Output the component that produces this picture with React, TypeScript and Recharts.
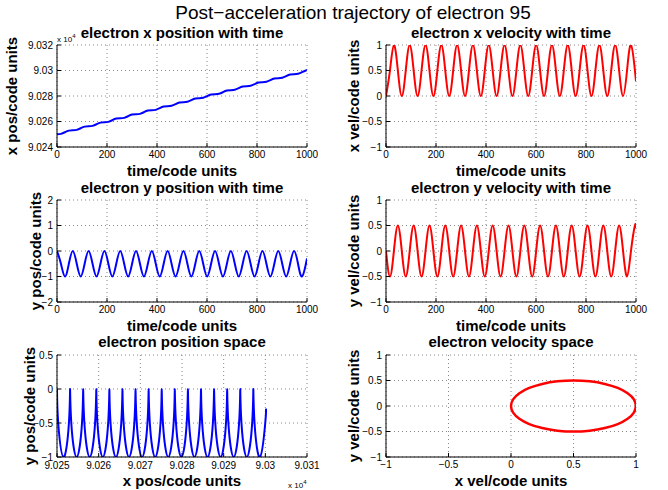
import React from 'react';
import { LineChart, Line, XAxis, YAxis, CartesianGrid } from 'recharts';

// samples taken at every quarter of a gyration
const time = [
  0, 15.8, 31.6, 47.4, 63.2, 79.0, 94.8, 110.6,
  126.4, 142.2, 158.1, 173.9, 189.7, 205.5, 221.3, 237.1,
  252.9, 268.7, 284.5, 300.3, 316.1, 331.9, 347.7, 363.5,
  379.3, 395.1, 410.9, 426.7, 442.5, 458.3, 474.2, 490.0,
  505.8, 521.6, 537.4, 553.2, 569.0, 584.8, 600.6, 616.4,
  632.2, 648.0, 663.8, 679.6, 695.4, 711.2, 727.0, 742.8,
  758.6, 774.4, 790.3, 806.1, 821.9, 837.7, 853.5, 869.3,
  885.1, 900.9, 916.7, 932.5, 948.3, 964.1, 979.9, 995.7,
  1000,
];

const xPos = [
  90250, 90250.29, 90251.57, 90252.86, 90253.14, 90253.43, 90254.71, 90256.0,
  90256.28, 90256.57, 90257.85, 90259.14, 90259.43, 90259.71, 90261.0, 90262.28,
  90262.57, 90262.85, 90264.14, 90265.42, 90265.71, 90265.99, 90267.28, 90268.56,
  90268.85, 90269.14, 90270.42, 90271.71, 90271.99, 90272.28, 90273.56, 90274.85,
  90275.13, 90275.42, 90276.7, 90277.99, 90278.27, 90278.56, 90279.85, 90281.13,
  90281.42, 90281.7, 90282.99, 90284.27, 90284.56, 90284.84, 90286.13, 90287.41,
  90287.7, 90287.99, 90289.27, 90290.56, 90290.84, 90291.13, 90292.41, 90293.7,
  90293.98, 90294.27, 90295.55, 90296.84, 90297.12, 90297.41, 90298.7, 90299.98,
  90300.15,
];

const yPos = [
  0, -0.5, -1, -0.5, 0, -0.5, -1, -0.5,
  0, -0.5, -1, -0.5, 0, -0.5, -1, -0.5,
  0, -0.5, -1, -0.5, 0, -0.5, -1, -0.5,
  0, -0.5, -1, -0.5, 0, -0.5, -1, -0.5,
  0, -0.5, -1, -0.5, 0, -0.5, -1, -0.5,
  0, -0.5, -1, -0.5, 0, -0.5, -1, -0.5,
  0, -0.5, -1, -0.5, 0, -0.5, -1, -0.5,
  0, -0.5, -1, -0.5, 0, -0.5, -1, -0.5,
  -0.29,
];

const xVel = [
  0, 0.5, 1, 0.5, 0, 0.5, 1, 0.5,
  0, 0.5, 1, 0.5, 0, 0.5, 1, 0.5,
  0, 0.5, 1, 0.5, 0, 0.5, 1, 0.5,
  0, 0.5, 1, 0.5, 0, 0.5, 1, 0.5,
  0, 0.5, 1, 0.5, 0, 0.5, 1, 0.5,
  0, 0.5, 1, 0.5, 0, 0.5, 1, 0.5,
  0, 0.5, 1, 0.5, 0, 0.5, 1, 0.5,
  0, 0.5, 1, 0.5, 0, 0.5, 1, 0.5,
  0.29,
];

const yVel = [
  0, -0.5, 0, 0.5, 0, -0.5, 0, 0.5,
  0, -0.5, 0, 0.5, 0, -0.5, 0, 0.5,
  0, -0.5, 0, 0.5, 0, -0.5, 0, 0.5,
  0, -0.5, 0, 0.5, 0, -0.5, 0, 0.5,
  0, -0.5, 0, 0.5, 0, -0.5, 0, 0.5,
  0, -0.5, 0, 0.5, 0, -0.5, 0, 0.5,
  0, -0.5, 0, 0.5, 0, -0.5, 0, 0.5,
  0, -0.5, 0, 0.5, 0, -0.5, 0, 0.5,
  0.45,
];

// one lap of the velocity-space loop (the laps lie on top of each other)
const loopVx = [
  1, 0.983, 0.933, 0.854, 0.75, 0.629, 0.5, 0.371, 0.25, 0.146, 0.067, 0.017, 0,
  0.017, 0.067, 0.146, 0.25, 0.371, 0.5, 0.629, 0.75, 0.854, 0.933, 0.983, 1,
];
const loopVy = [
  0, 0.129, 0.25, 0.354, 0.433, 0.483, 0.5, 0.483, 0.433, 0.354, 0.25, 0.129, 0,
  -0.129, -0.25, -0.354, -0.433, -0.483, -0.5, -0.483, -0.433, -0.354, -0.25, -0.129, 0,
];

const timeTicks = [0, 200, 400, 600, 800, 1000];
const xPosTicks = [90240, 90260, 90280, 90300, 90320];
const yPosTicks = [-2, -1, 0, 1, 2];
const velTicks = [-1, -0.5, 0, 0.5, 1];
const spaceXTicks = [90250, 90260, 90270, 90280, 90290, 90300, 90310];
const spaceYTicks = [-1, -0.5, 0, 0.5];

const rows = time.map((t, i) => ({ t, x: xPos[i], y: yPos[i], vx: xVel[i], vy: yVel[i] }));
const loopRows = loopVx.map((vx, i) => ({ vx, vy: loopVy[i] }));

const FONT = "'Liberation Sans', Arial, Helvetica, sans-serif";
const BOX_W = 250;
const BOX_H = 102;
const PAD_L = 60;
const PAD_T = 6;
const PAD_R = 22;
const PAD_B = 24;

const fmt = (v: number) => String(parseFloat(v.toFixed(4))).replace('-', '\u2212');
const fmt4 = (v: number) => fmt(v / 1e4);
const blank = () => '';

const tickStyle = { fontSize: 10, fill: '#000', fontFamily: FONT };

interface PanelProps {
  left: number;
  top: number;
  data?: object[];
  xKey: string;
  yKey: string;
  xDomain: [number, number];
  yDomain: [number, number];
  xTicks: number[];
  yTicks: number[];
  xFmt?: (v: number) => string;
  yFmt?: (v: number) => string;
  color: string;
  width?: number;
  xGap?: number;
}

const Panel: React.FC<PanelProps> = ({ left, top, data = rows, xKey, yKey, xDomain, yDomain, xTicks, yTicks, xFmt = fmt, yFmt = fmt, color, width = 2, xGap = 8 }) => (
  <div style={{ position: 'absolute', left: left - PAD_L, top: top - PAD_T }}>
    <LineChart
      width={BOX_W + PAD_L + PAD_R}
      height={BOX_H + PAD_T + PAD_B}
      data={data}
      margin={{ top: PAD_T, right: PAD_R, bottom: 0, left: 0 }}
    >
      <CartesianGrid stroke="#888" strokeDasharray="1 3" />
      <XAxis
        dataKey={xKey}
        type="number"
        domain={xDomain}
        ticks={xTicks}
        interval={0}
        allowDataOverflow
        height={PAD_B}
        tickFormatter={xFmt}
        tickSize={-4}
        tickMargin={xGap}
        axisLine={{ stroke: '#000' }}
        tickLine={{ stroke: '#000' }}
        tick={tickStyle}
      />
      <XAxis
        xAxisId="top"
        orientation="top"
        type="number"
        domain={xDomain}
        ticks={xTicks}
        interval={0}
        height={0}
        tickFormatter={blank}
        tickSize={-4}
        axisLine={{ stroke: '#000' }}
        tickLine={{ stroke: '#000' }}
      />
      <YAxis
        type="number"
        domain={yDomain}
        ticks={yTicks}
        interval={0}
        allowDataOverflow
        width={PAD_L}
        tickFormatter={yFmt}
        tickSize={-4}
        tickMargin={8}
        axisLine={{ stroke: '#000' }}
        tickLine={{ stroke: '#000' }}
        tick={tickStyle}
      />
      <YAxis
        yAxisId="right"
        orientation="right"
        type="number"
        domain={yDomain}
        ticks={yTicks}
        interval={0}
        width={0}
        tickFormatter={blank}
        tickSize={-4}
        axisLine={{ stroke: '#000' }}
        tickLine={{ stroke: '#000' }}
      />
      <Line
        dataKey={yKey}
        type="natural"
        stroke={color}
        strokeWidth={width}
        dot={false}
        isAnimationActive={false}
      />
    </LineChart>
  </div>
);

const Text: React.FC<{ x: number; y: number; size: number; bold?: boolean; rotate?: boolean; children: React.ReactNode }> = ({ x, y, size, bold = true, rotate = false, children }) => (
  <div
    style={{
      position: 'absolute',
      left: x,
      top: y,
      transform: `translate(-50%, -50%)${rotate ? ' rotate(-90deg)' : ''}`,
      whiteSpace: 'nowrap',
      fontFamily: FONT,
      fontSize: size,
      fontWeight: bold ? 'bold' : 'normal',
      color: '#000',
      lineHeight: 1,
    }}
  >
    {children}
  </div>
);

const Exp: React.FC<{ x: number; y: number }> = ({ x, y }) => (
  <div style={{ position: 'absolute', left: x, top: y, fontFamily: FONT, fontSize: 8, lineHeight: 1, color: '#000', whiteSpace: 'nowrap' }}>
    x 10<sup style={{ fontSize: 6 }}>4</sup>
  </div>
);

export default function App() {
  const L = 57;
  const R = 386;
  const rowsTop = [45, 200, 355];
  return (
    <div style={{ position: 'absolute', left: 0, top: 0, width: 668, height: 490, background: '#fff', overflow: 'hidden' }}>
      <Text x={353} y={12} size={19} bold={false}>Post{'\u2212'}acceleration trajectory of electron 95</Text>

      <Panel left={L} top={rowsTop[0]} xKey="t" yKey="x" xDomain={[0, 1000]} yDomain={[90240, 90320]} xTicks={timeTicks} yTicks={xPosTicks} yFmt={fmt4} color="#0000ff" />
      <Panel left={R} top={rowsTop[0]} xKey="t" yKey="vx" xDomain={[0, 1000]} yDomain={[-1, 1]} xTicks={timeTicks} yTicks={velTicks} color="#ff0000" />
      <Panel left={L} top={rowsTop[1]} xKey="t" yKey="y" xDomain={[0, 1000]} yDomain={[-2, 2]} xTicks={timeTicks} yTicks={yPosTicks} color="#0000ff" />
      <Panel left={R} top={rowsTop[1]} xKey="t" yKey="vy" xDomain={[0, 1000]} yDomain={[-1, 1]} xTicks={timeTicks} yTicks={velTicks} color="#ff0000" />
      <Panel left={L} top={rowsTop[2]} xKey="x" yKey="y" xDomain={[90250, 90310]} yDomain={[-1, 0.5]} xTicks={spaceXTicks} yTicks={spaceYTicks} xFmt={fmt4} color="#0000ff" xGap={9} />
      <Panel left={R} top={rowsTop[2]} data={loopRows} xKey="vx" yKey="vy" xDomain={[-1, 1]} yDomain={[-1, 1]} xTicks={velTicks} yTicks={velTicks} color="#ff0000" width={2.5} />

      <Text x={182} y={32} size={15}>electron x position with time</Text>
      <Text x={511} y={32} size={15}>electron x velocity with time</Text>
      <Text x={182} y={187} size={15}>electron y position with time</Text>
      <Text x={511} y={187} size={15}>electron y velocity with time</Text>
      <Text x={182} y={341} size={15}>electron position space</Text>
      <Text x={511} y={341} size={15}>electron velocity space</Text>

      <Text x={182} y={170} size={15}>time/code units</Text>
      <Text x={511} y={170} size={15}>time/code units</Text>
      <Text x={182} y={325} size={15}>time/code units</Text>
      <Text x={511} y={325} size={15}>time/code units</Text>
      <Text x={182} y={480} size={15}>x pos/code units</Text>
      <Text x={511} y={480} size={15}>x vel/code units</Text>

      <Text x={11} y={96} size={15} rotate>x pos/code units</Text>
      <Text x={353} y={96} size={15} rotate>x vel/code units</Text>
      <Text x={35} y={251} size={15} rotate>y pos/code units</Text>
      <Text x={353} y={251} size={15} rotate>y vel/code units</Text>
      <Text x={29} y={406} size={15} rotate>y pos/code units</Text>
      <Text x={353} y={406} size={15} rotate>y vel/code units</Text>

      <Exp x={57} y={33} />
      <Exp x={288} y={479} />
    </div>
  );
}
